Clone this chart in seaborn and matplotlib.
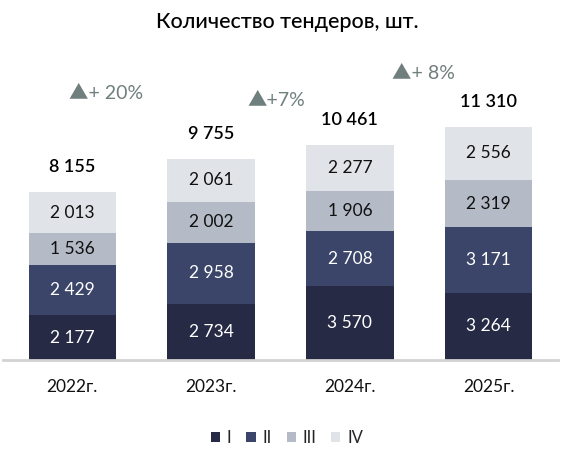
import numpy as np
import pandas as pd
import matplotlib
matplotlib.use("Agg")
import matplotlib.pyplot as plt
import seaborn as sns

# --- data ---
years = ["2022г.", "2023г.", "2024г.", "2025г."]
q1 = [2177, 2734, 3570, 3264]
q2 = [2429, 2958, 2708, 3171]
q3 = [1536, 2002, 1906, 2319]
q4 = [2013, 2061, 2277, 2556]
totals = [8155, 9755, 10461, 11310]
quarters = ["I", "II", "III", "IV"]
growth_labels = ["▲+ 20%", "▲+7%", "▲+ 8%"]
growth_x = [0.24, 1.47, 2.53]
growth_y = [12960, 12620, 13930]

colors = ["#262a45", "#3a4569", "#b4bac6", "#e0e3e8"]
text_colors = ["white", "white", "#111111", "#111111"]

sns.set_theme(style="white")
plt.rcParams["font.family"] = ["Lato", "DejaVu Sans"]

fig = plt.figure(figsize=(5.84, 4.62), dpi=100)
W, H = 584, 462
ymax = 14500
ax = fig.add_axes([3 / W, 102 / H, 555 / W, ymax * 0.0206 / H])

series = [q1, q2, q3, q4]
cum = np.cumsum(np.array(series), axis=0)

# draw cumulative bars from top down so lower segments overlay
for i in range(3, -1, -1):
    df = pd.DataFrame({"year": years, "value": cum[i]})
    sns.barplot(data=df, x="year", y="value", color=colors[i], width=0.63,
                saturation=1, ax=ax, label=quarters[i], linewidth=0)

# segment labels
for i in range(4):
    for j in range(len(years)):
        mid = cum[i][j] - series[i][j] / 2
        txt = f"{series[i][j]:,}".replace(",", " ")
        ax.text(j, mid, txt, ha="center", va="center", fontsize=12.5,
                color=text_colors[i])

# totals
for j, t in enumerate(totals):
    ax.text(j, t + 1200, f"{t:,}".replace(",", " "), ha="center", va="center",
            fontsize=13, color="black", fontweight="semibold")

# growth
for lbl, gx, gy in zip(growth_labels, growth_x, growth_y):
    ax.text(gx, gy, lbl, ha="center", va="center", fontsize=14,
            color="#6f7f7d", family=["Lato", "Noto Sans CJK SC"])

ax.set_xlim(-0.5, 3.5)
ax.set_ylim(0, ymax)
ax.set_xlabel("")
ax.set_ylabel("")
ax.set_yticks([])
ax.tick_params(axis="x", length=0, labelsize=12.5, pad=14, colors="#111111")
for s in ["top", "right", "left"]:
    ax.spines[s].set_visible(False)
ax.spines["bottom"].set_color("#d3d3d3")
ax.spines["bottom"].set_linewidth(2)

# legend order I..IV
handles, labels = ax.get_legend_handles_labels()
if ax.get_legend() is not None:
    ax.get_legend().remove()
order = [labels.index(q) for q in quarters]
fig.legend([handles[k] for k in order], quarters, loc="center",
           bbox_to_anchor=(287 / W, 1 - 438 / H), ncol=4, frameon=False,
           fontsize=12, handlelength=0.55, handleheight=0.55,
           handletextpad=0.4, columnspacing=0.9)

fig.text(287 / W, 1 - 22 / H, "Количество тендеров, шт.", ha="center",
         va="center", fontsize=15.5, fontweight="medium", color="black")

fig.savefig("out.png", dpi=100)
